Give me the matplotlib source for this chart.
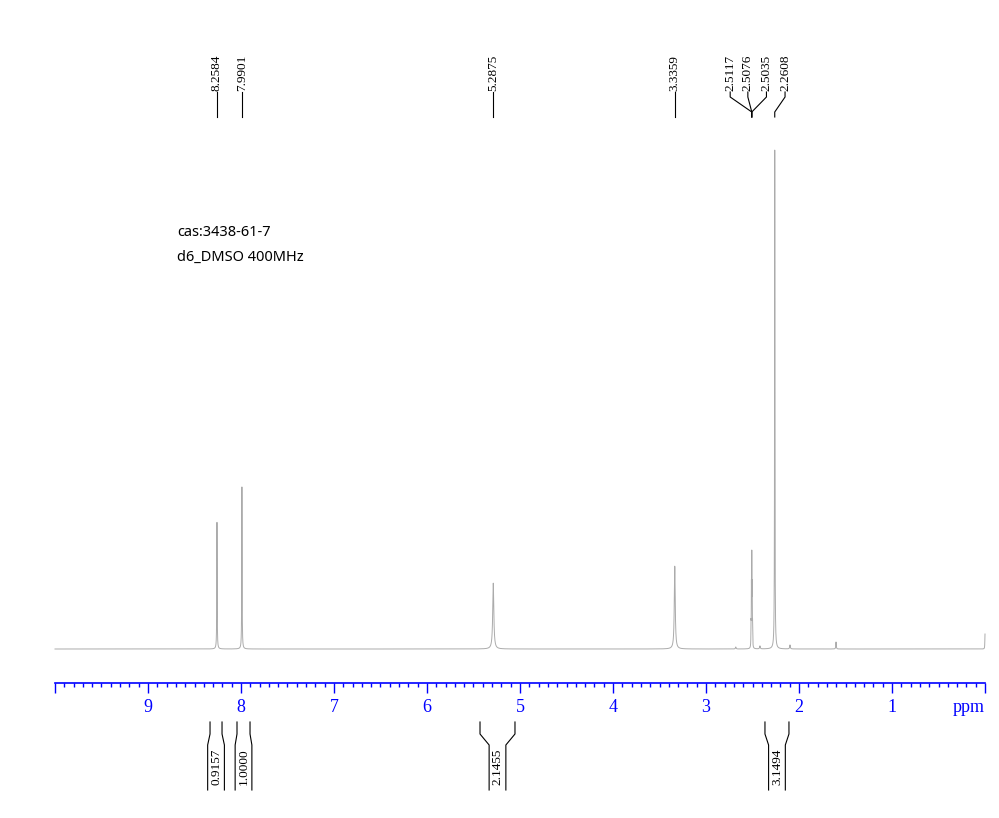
import numpy as np
import matplotlib
matplotlib.use("Agg")
import matplotlib.pyplot as plt
import matplotlib.transforms as mtransforms
from matplotlib.ticker import FixedLocator, MultipleLocator, FuncFormatter

# peak list (ppm, relative height, half width)
peak_ppm = [8.2584, 7.9901, 5.2875, 3.3359,
            2.5158, 2.5117, 2.5076, 2.5035, 2.4994,
            2.2608, 2.68, 2.42, 2.097, 1.602, 0.0]
peak_height = [0.254, 0.325, 0.132, 0.166,
               0.04, 0.11, 0.17, 0.11, 0.04,
               1.0, 0.004, 0.006, 0.008, 0.014, 0.03]
peak_width = [0.0022, 0.0022, 0.007, 0.006,
              0.0015, 0.0015, 0.0015, 0.0015, 0.0015,
              0.0022, 0.004, 0.004, 0.004, 0.003, 0.002]

# labelled shifts on top
shift_labels = ["8.2584", "7.9901", "5.2875", "3.3359",
                "2.5117", "2.5076", "2.5035", "2.2608"]
shift_target = [8.2584, 7.9901, 5.2875, 3.3359,
                2.5076, 2.5076, 2.5076, 2.2608]

# integrals below the axis
integ_left = [8.333, 8.043, 5.43, 2.366]
integ_right = [8.204, 7.903, 5.054, 2.108]
integ_values = ["0.9157", "1.0000", "2.1455", "3.1494"]

W, H = 999, 818
fig = plt.figure(figsize=(W / 100, H / 100), dpi=100)
ax = fig.add_axes([55 / W, 0, 930 / W, 1])

def fy(ypix):
    return 1 - ypix / H

# baseline at pixel 649, tallest peak at pixel 150
f0, f1 = fy(649), fy(150)
ymin = -f0 / (f1 - f0)
ax.set_xlim(10, 0)
ax.set_ylim(ymin, ymin + 1 / (f1 - f0))

x = np.linspace(10, 0, 60001)
y = np.zeros_like(x)
for c, h, w in zip(peak_ppm, peak_height, peak_width):
    y += h / (1 + ((x - c) / w) ** 2)
ax.plot(x, y, color="#ababab", lw=0.7, clip_on=False)

# axis
for s in ["top", "left", "right"]:
    ax.spines[s].set_visible(False)
ax.spines["bottom"].set_position(("axes", fy(683)))
ax.spines["bottom"].set_color("#0000ff")
ax.spines["bottom"].set_linewidth(1.2)
ax.yaxis.set_visible(False)
ax.xaxis.set_major_locator(FixedLocator(range(0, 11)))
ax.xaxis.set_minor_locator(MultipleLocator(0.1))
ax.xaxis.set_major_formatter(FuncFormatter(lambda v, p: "" if v in (0, 10) else "%d" % v))
ax.tick_params(axis="x", which="major", length=7.2, width=1.0, color="#0000ff",
               labelcolor="#0000ff", pad=4)
ax.tick_params(axis="x", which="minor", length=3, width=1.0, color="#0000ff")
for lab in ax.get_xticklabels():
    lab.set_fontfamily("Liberation Serif")
    lab.set_fontsize(13)

trans = mtransforms.blended_transform_factory(ax.transData, ax.transAxes)
ax.text(0.18, fy(708), "ppm", transform=trans, ha="center", va="center",
        color="#0000ff", fontsize=13, family="Liberation Serif")

# sample info
fig.text(177 / W, fy(232), "cas:3438-61-7", fontsize=10.5, family="Noto Sans", va="center")
fig.text(177 / W, fy(257), "d6_DMSO 400MHz", fontsize=10.5, family="Noto Sans", va="center")

# peak labels
label_x = [8.2584, 7.9901, 5.2875, 3.3359, 2.74, 2.55, 2.35, 2.15]
for lx, tx, lab in zip(label_x, shift_target, shift_labels):
    ax.text(lx, fy(91), lab, transform=trans, rotation=90, ha="center", va="bottom",
            fontsize=9.5, family="Liberation Serif")
    ax.plot([lx, lx, tx, tx], [fy(92), fy(97), fy(112), fy(117)], transform=trans,
            color="black", lw=0.8, clip_on=False)

# integrals
d = 0.09
for l, r, v in zip(integ_left, integ_right, integ_values):
    c = (l + r) / 2
    ax.plot([l, l, c + d, c + d], [fy(722), fy(734), fy(745), fy(790)], transform=trans,
            color="black", lw=0.8, clip_on=False)
    ax.plot([r, r, c - d, c - d], [fy(722), fy(734), fy(745), fy(790)], transform=trans,
            color="black", lw=0.8, clip_on=False)
    ax.text(c, fy(767), v, transform=trans, rotation=90, ha="center", va="center",
            fontsize=9.5, family="Liberation Serif")

fig.savefig("out.png", dpi=100)
